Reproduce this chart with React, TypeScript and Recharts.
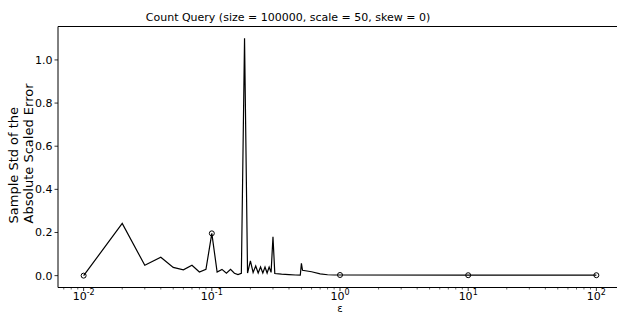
import React from 'react';
import {
  LineChart,
  Line,
  XAxis,
  YAxis,
  ReferenceLine,
} from 'recharts';

// epsilon values (x) and sample std of the absolute scaled error (y)
const epsilon = [
  0.01, 0.02, 0.03, 0.04, 0.05, 0.06, 0.07, 0.08, 0.09, 0.1,
  0.11, 0.12, 0.13, 0.14, 0.15, 0.16, 0.17, 0.18, 0.19, 0.2,
  0.21, 0.22, 0.23, 0.24, 0.25, 0.26, 0.27, 0.28, 0.29, 0.3,
  0.31, 0.35, 0.4, 0.45, 0.49, 0.5, 0.51, 0.6, 0.7, 0.8, 0.9,
  1, 10, 100,
];
const stdError = [
  0.0, 0.242, 0.048, 0.085, 0.038, 0.027, 0.048, 0.017, 0.029, 0.196,
  0.017, 0.029, 0.011, 0.029, 0.011, 0.005, 0.011, 1.1, 0.012, 0.068,
  0.015, 0.045, 0.012, 0.04, 0.012, 0.04, 0.012, 0.04, 0.015, 0.18,
  0.01, 0.007, 0.005, 0.003, 0.002, 0.057, 0.025, 0.018, 0.008, 0.004, 0.003,
  0.003, 0.002, 0.002,
];
const markedEps = [0.01, 0.1, 1, 10, 100];

const majorTicks = [0.01, 0.1, 1, 10, 100];
const majorLabels = ['-2', '-1', '0', '1', '2'];
const yTicks = [0, 0.2, 0.4, 0.6, 0.8, 1.0];

const FONT = '"DejaVu Sans", sans-serif';
const X_MIN = Math.pow(10, -2.2);
const X_MAX = Math.pow(10, 2.2);
const Y_MIN = -0.055;
const Y_MAX = 1.155;

const minorTicks: number[] = [];
[0.001, 0.01, 0.1, 1, 10, 100].forEach((d) => {
  for (let m = 2; m <= 9; m++) {
    const t = +(d * m).toPrecision(3);
    if (t >= X_MIN && t <= X_MAX) minorTicks.push(t);
  }
});
const xTicks = [...majorTicks, ...minorTicks].sort((a, b) => a - b);

const data = epsilon.map((e, i) => ({ eps: e, err: stdError[i] }));

const XTick = (props: any) => {
  const { x, y, payload } = props;
  const v = payload.value;
  const idx = majorTicks.findIndex((t) => Math.abs(t - v) / v < 1e-6);
  const major = idx >= 0;
  return (
    <g>
      <line x1={x} x2={x} y1={y} y2={y + (major ? 3.5 : 2)} stroke="#000" strokeWidth={major ? 0.8 : 0.6} />
      {major && (
        <text x={x} y={y + 12.5} textAnchor="middle" fontSize={11} fontFamily={FONT} fill="#000">
          10
          <tspan dy={-5} fontSize={8}>{majorLabels[idx]}</tspan>
        </text>
      )}
    </g>
  );
};

const renderDot = (props: any) => {
  const { cx, cy, payload, index } = props;
  if (markedEps.includes(payload.eps)) {
    return <circle key={`d${index}`} cx={cx} cy={cy} r={2.5} fill="none" stroke="#000" strokeWidth={1} />;
  }
  return <g key={`d${index}`} />;
};

const YLabel = () => (
  <text fontSize={13} fontFamily={FONT} fill="#000" textAnchor="start" transform="translate(0,223.5) rotate(-90)">
    <tspan x={0} y={18}>Sample Std of the</tspan>
    <tspan x={0} y={33}>Absolute Scaled Error</tspan>
  </text>
);

export default function App() {
  return (
    <div style={{ position: 'fixed', left: 0, top: 0, width: 617, height: 314, overflow: 'hidden', background: '#fff' }}>
      <div
        style={{
          position: 'absolute',
          left: 0,
          width: 576,
          top: 11,
          textAlign: 'center',
          fontFamily: FONT,
          fontSize: 11,
          lineHeight: '13px',
          color: '#000',
        }}
      >
        Count Query (size = 100000, scale = 50, skew = 0)
      </div>
      <LineChart width={630} height={314} data={data} margin={{ top: 26.5, right: 8, bottom: 0, left: 0 }}>
        <XAxis
          dataKey="eps"
          type="number"
          scale="log"
          domain={[X_MIN, X_MAX]}
          allowDataOverflow
          ticks={xTicks}
          interval={0}
          tick={<XTick />}
          tickLine={false}
          tickSize={0}
          tickMargin={0}
          height={26.5}
          axisLine={{ stroke: '#000', strokeWidth: 1 }}
          label={() => (
            <text x={340} y={311.8} textAnchor="middle" fontSize={10} fontFamily={FONT} fill="#000">ε</text>
          )}
        />
        <YAxis
          type="number"
          domain={[Y_MIN, Y_MAX]}
          allowDataOverflow
          ticks={yTicks}
          interval={0}
          width={58}
          tickFormatter={(v: number) => v.toFixed(1)}
          tick={{ fontSize: 11, fontFamily: FONT, fill: '#000' }}
          tickSize={3.5}
          tickMargin={2}
          tickLine={{ stroke: '#000', strokeWidth: 0.8 }}
          axisLine={{ stroke: '#000', strokeWidth: 1 }}
          label={<YLabel />}
        />
        <ReferenceLine y={Y_MAX} stroke="#000" strokeWidth={1} />
        <Line
          type="linear"
          dataKey="err"
          stroke="#000"
          strokeWidth={1.2}
          dot={renderDot}
          activeDot={false}
          isAnimationActive={false}
        />
      </LineChart>
    </div>
  );
}
